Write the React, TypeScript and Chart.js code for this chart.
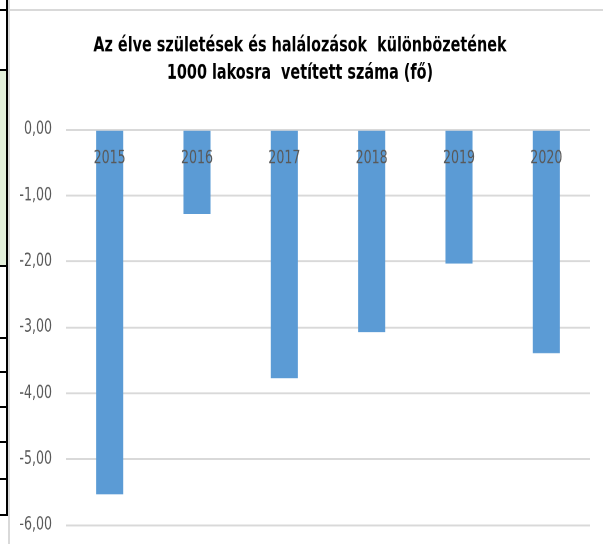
import React, { useEffect, useRef } from "react";
import { Chart, registerables } from "chart.js";

Chart.register(...registerables);

const categories: string[] = ["2015", "2016", "2017", "2018", "2019", "2020"];
const values: number[] = [-5.53, -1.28, -3.77, -3.07, -2.03, -3.39];
const titleLines: string[] = [
  "Az élve születések és halálozások  különbözetének",
  "1000 lakosra  vetített száma (fő)",
];
const yMin = -6;
const yMax = 0;
const yStep = 1;

const FONT = "'DejaVu Sans Condensed', 'Liberation Sans Narrow', sans-serif";
const sideLineYs: number[] = [9, 69, 265, 337, 371, 406, 441, 478, 514];

const W = 603;
const STRETCH = 544 / 418; // the source picture is stretched vertically
const H = 426; // drawn height (bottom overflow is clipped)

export default function App() {
  const ref = useRef<HTMLCanvasElement | null>(null);

  useEffect(() => {
    if (!ref.current) return;
    const chart = new Chart(ref.current, {
      type: "bar",
      data: {
        labels: categories,
        datasets: [
          {
            data: values,
            backgroundColor: "#5B9BD5",
            borderWidth: 0,
            barPercentage: 0.31,
            categoryPercentage: 1,
          },
        ],
      },
      options: {
        animation: false,
        responsive: false,
        devicePixelRatio: 2,
        layout: { padding: { left: 10, right: 13, top: 0, bottom: 8 } },
        plugins: {
          legend: { display: false },
          tooltip: { enabled: false },
          title: {
            display: true,
            text: titleLines,
            color: "#000000",
            align: "center",
            font: { family: FONT, size: 16, weight: "bold", lineHeight: 1.3 },
            padding: { top: 25, bottom: 33 },
          },
        },
        scales: {
          x: {
            position: { y: 0 } as any,
            grid: { display: false },
            border: { display: false },
            ticks: {
              z: 1,
              color: "#595959",
              padding: 6,
              font: { family: FONT, size: 14 },
              maxRotation: 0,
            },
          },
          y: {
            min: yMin,
            max: yMax,
            grid: { color: "#D9D9D9", lineWidth: 1.5, drawTicks: false },
            border: { display: false },
            afterFit: (scale: any) => {
              scale.width = 56;
            },
            ticks: {
              stepSize: yStep,
              color: "#595959",
              padding: 14,
              font: { family: FONT, size: 14 },
              callback: (v: any) => Number(v).toFixed(2).replace(".", ","),
            },
          },
        },
      },
    });
    return () => chart.destroy();
  }, []);

  return (
    <div
      style={{
        position: "fixed",
        left: 0,
        top: 0,
        width: W,
        height: 544,
        background: "#ffffff",
        overflow: "hidden",
      }}
    >
      <div style={{ position: "absolute", left: 0, top: 69, width: 7, height: 196, background: "#E2EFDA" }} />
      <div style={{ position: "absolute", left: 6, top: 0, width: 2, height: 516, background: "#000" }} />
      {sideLineYs.map((y) => (
        <div key={y} style={{ position: "absolute", left: 0, top: y, width: 7, height: 2, background: "#000" }} />
      ))}
      <div style={{ position: "absolute", left: 8, top: 0, width: 2, height: 544, background: "#D9D9D9" }} />
      <div style={{ position: "absolute", left: 8, top: 9, width: W - 8, height: 2, background: "#D9D9D9" }} />
      <div
        style={{
          position: "absolute",
          left: 0,
          top: 0,
          width: W,
          height: H,
          transform: `scaleY(${STRETCH})`,
          transformOrigin: "0 0",
        }}
      >
        <canvas ref={ref} width={W} height={H} style={{ display: "block" }} />
      </div>
    </div>
  );
}
